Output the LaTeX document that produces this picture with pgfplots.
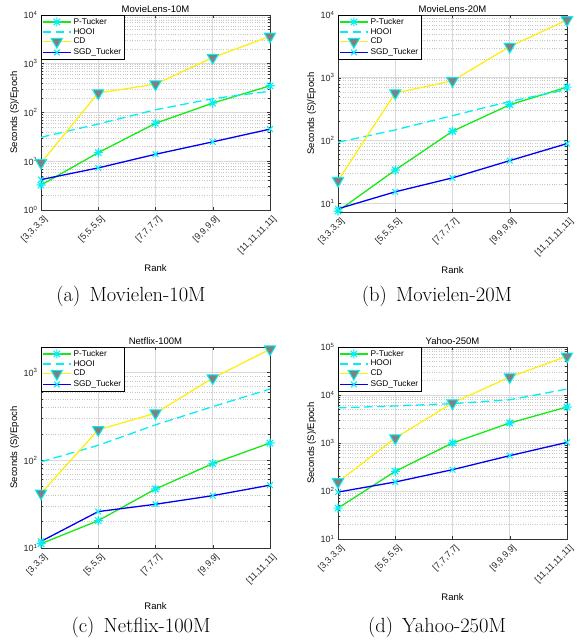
\documentclass[border=0pt]{standalone}
\usepackage{pgfplots}
\pgfplotsset{compat=1.18}
\usepackage{fontspec}
\newfontfamily\arial{Liberation Sans}
\newcommand\af[1]{\arial\fontsize{#1}{#1}\selectfont}
\definecolor{mgreen}{RGB}{20,235,20}
\definecolor{myellow}{RGB}{255,238,20}
\definecolor{mblue}{RGB}{0,0,245}
\definecolor{mcyan}{RGB}{0,240,245}
\pgfdeclareplotmark{star8}{%
  \pgfpathmoveto{\pgfpointpolar{0}{\pgfplotmarksize}}\pgfpathlineto{\pgfpointpolar{180}{\pgfplotmarksize}}%
  \pgfpathmoveto{\pgfpointpolar{90}{\pgfplotmarksize}}\pgfpathlineto{\pgfpointpolar{270}{\pgfplotmarksize}}%
  \pgfpathmoveto{\pgfpointpolar{45}{\pgfplotmarksize}}\pgfpathlineto{\pgfpointpolar{225}{\pgfplotmarksize}}%
  \pgfpathmoveto{\pgfpointpolar{135}{\pgfplotmarksize}}\pgfpathlineto{\pgfpointpolar{315}{\pgfplotmarksize}}%
  \pgfusepathqstroke}
\pgfplotsset{
  scale only axis, width=229pt,
  xmin=0, xmax=4, xtick={0,1,2,3,4},
  xmajorgrids, ymajorgrids, yminorgrids,
  major grid style={black!15, line width=0.6pt},
  minor grid style={black!22, dotted, line width=0.4pt},
  axis line style={black!80, line width=0.6pt},
  major tick length=3pt, minor tick length=1.8pt,
  tick align=inside,
  tick style={black!80, line width=0.5pt},
  ticklabel style={font=\af{9}, text=black!85},
  xticklabel style={rotate=45, anchor=east, inner sep=1pt, xshift=-0.7pt, yshift=-9pt},
  every axis title shift=0pt,
  title style={font=\af{9.5}, at={(rel axis cs:0.5,1)}, anchor=south, inner sep=2.5pt},
  ylabel style={font=\af{9.5}, at={(rel axis cs:-0.115,0.5)}, anchor=center},
  xlabel style={font=\af{9.5}, at={(rel axis cs:0.5,0)}, anchor=center, yshift=-58pt},
  legend style={at={(rel axis cs:0,1)}, anchor=north west, font=\af{8.3}, draw=black, fill=white, inner sep=1pt, row sep=-1.5pt},
  legend cell align=left,
  every axis plot/.append style={legend image code/.code={\draw[mark repeat=2,mark phase=2,##1] plot coordinates {(0pt,0pt) (14pt,0pt) (28pt,0pt)};}},
}
\tikzset{
 ptuck/.style={mgreen, line width=1.3pt, mark=star8, mark size=4.5pt, mark options={mcyan, line width=1.1pt, solid}},
 hooi/.style={mcyan, line width=1.3pt, dash pattern=on 8.5pt off 4.5pt},
 cd/.style={myellow, line width=1.3pt, mark=triangle*, mark size=6.5pt, mark options={rotate=180, fill=black!50, draw=mcyan, line width=1pt, solid}},
 sgd/.style={mblue, line width=1.3pt, mark=x, mark size=4pt, mark options={mcyan, line width=1.1pt, solid}},
}
\begin{document}
\begin{tikzpicture}
\path[use as bounding box] (0,0) rectangle (576pt,642pt);
% (a)
\begin{axis}[ymode=log, at={(41pt,432pt)}, anchor=south west, height=195pt,
  title={MovieLens-10M}, xlabel={Rank}, ylabel={Seconds (S)/Epoch}, ymin=1, ymax=1e4,
  ytick={1,10,100,1000,10000},
  yticklabels={10\textsuperscript{0},10\textsuperscript{1},10\textsuperscript{2},10\textsuperscript{3},10\textsuperscript{4}},
  xticklabels={{[3,3,3,3]},{[5,5,5,5]},{[7,7,7,7]},{[9,9,9,9]},{[11,11,11,11]}}]
\addplot[ptuck] coordinates {(0,3.25) (1,15) (2,60) (3,156) (4,353)};
\addplot[hooi, no marks] coordinates {(0,31) (1,58) (2,114) (3,192) (4,273)};
\addplot[cd] coordinates {(0,9.3) (1,251) (2,381) (3,1340) (4,3650)};
\addplot[sgd] coordinates {(0,4.2) (1,7.3) (2,13.9) (3,25) (4,45.6)};
\legend{P-Tucker,HOOI,CD,SGD\_Tucker}
\end{axis}
% (b)
\begin{axis}[ymode=log, at={(338pt,430pt)}, anchor=south west, height=197pt,
  title={MovieLens-20M}, xlabel={Rank}, ylabel={Seconds (S)/Epoch}, ymin=7.3, ymax=1e4,
  ytick={10,100,1000,10000},
  yticklabels={10\textsuperscript{1},10\textsuperscript{2},10\textsuperscript{3},10\textsuperscript{4}},
  xticklabels={{[3,3,3,3]},{[5,5,5,5]},{[7,7,7,7]},{[9,9,9,9]},{[11,11,11,11]}}]
\addplot[ptuck] coordinates {(0,7.55) (1,34) (2,141) (3,372) (4,711)};
\addplot[hooi, no marks] coordinates {(0,94) (1,148) (2,250) (3,420) (4,650)};
\addplot[cd] coordinates {(0,23) (1,571) (2,896) (3,3140) (4,8340)};
\addplot[sgd] coordinates {(0,8.2) (1,15.3) (2,25.5) (3,48) (4,89.6)};
\legend{P-Tucker,HOOI,CD,SGD\_Tucker}
\end{axis}
% (c)
\begin{axis}[ymode=log, at={(41pt,94pt)}, anchor=south west, height=201pt,
  title={Netflix-100M}, xlabel={Rank}, ylabel={Seconds (S)/Epoch}, ymin=10, ymax=1950,
  ytick={10,100,1000},
  yticklabels={10\textsuperscript{1},10\textsuperscript{2},10\textsuperscript{3}},
  xticklabels={{[3,3,3]},{[5,5,5]},{[7,7,7]},{[9,9,9]},{[11,11,11]}}]
\addplot[ptuck] coordinates {(0,11.2) (1,20.5) (2,47) (3,91.6) (4,157)};
\addplot[hooi, no marks] coordinates {(0,96) (1,148) (2,253) (3,408) (4,647)};
\addplot[cd] coordinates {(0,42) (1,222) (2,343) (3,862) (4,1838)};
\addplot[sgd] coordinates {(0,11.9) (1,26) (2,31.5) (3,39.5) (4,52)};
\legend{P-Tucker,HOOI,CD,SGD\_Tucker}
\end{axis}
% (d)
\begin{axis}[ymode=log, at={(338pt,103pt)}, anchor=south west, height=192pt,
  title={Yahoo-250M}, xlabel={Rank}, ylabel={Seconds (S)/Epoch}, ymin=10, ymax=1e5,
  ytick={10,100,1000,10000,100000},
  yticklabels={10\textsuperscript{1},10\textsuperscript{2},10\textsuperscript{3},10\textsuperscript{4},10\textsuperscript{5}},
  xticklabels={{[3,3,3,3]},{[5,5,5,5]},{[7,7,7,7]},{[9,9,9,9]},{[11,11,11,11]}}]
\addplot[ptuck] coordinates {(0,44) (1,257) (2,1000) (3,2610) (4,5620)};
\addplot[hooi, no marks] coordinates {(0,5400) (1,5900) (2,6600) (3,7950) (4,13300)};
\addplot[cd] coordinates {(0,154) (1,1270) (2,6810) (3,23700) (4,64000)};
\addplot[sgd] coordinates {(0,95) (1,154) (2,278) (3,545) (4,1030)};
\legend{P-Tucker,HOOI,CD,SGD\_Tucker}
\end{axis}
% captions
\node[font=\fontsize{20.5}{23}\selectfont] at (131pt,346pt) {(a)\hspace{0.45em}Movielen-10M};
\node[font=\fontsize{20.5}{23}\selectfont] at (437pt,346pt) {(b)\hspace{0.45em}Movielen-20M};
\node[font=\fontsize{20.5}{23}\selectfont] at (141pt,15pt) {(c)\hspace{0.45em}Netflix-100M};
\node[font=\fontsize{20.5}{23}\selectfont] at (437pt,15pt) {(d)\hspace{0.45em}Yahoo-250M};
\end{tikzpicture}
\end{document}
